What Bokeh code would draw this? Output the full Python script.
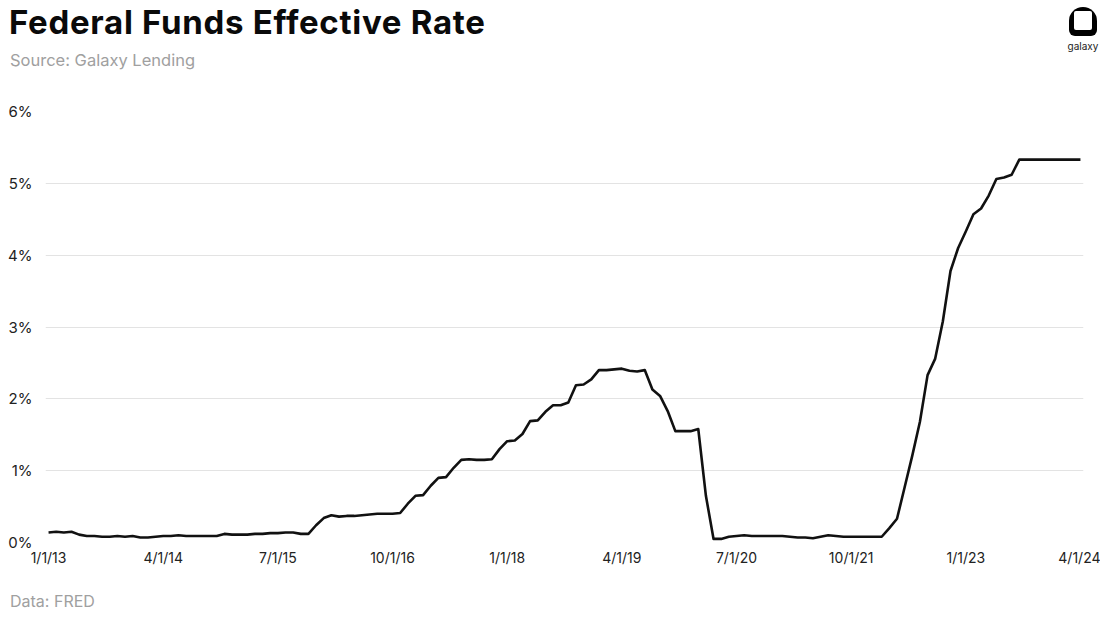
from bokeh.plotting import figure
from bokeh.models import ColumnDataSource, Range1d, FixedTicker, Div
from bokeh.layouts import column
from bokeh.embed import file_html
from bokeh.resources import INLINE
import pandas as pd

# ---- data (FRED, monthly Federal Funds Effective Rate, %) ----
start_month = "2013-01-01"
rates = [
    0.14, 0.15, 0.14, 0.15, 0.11, 0.09, 0.09, 0.08, 0.08, 0.09, 0.08, 0.09,   # 2013
    0.07, 0.07, 0.08, 0.09, 0.09, 0.10, 0.09, 0.09, 0.09, 0.09, 0.09, 0.12,   # 2014
    0.11, 0.11, 0.11, 0.12, 0.12, 0.13, 0.13, 0.14, 0.14, 0.12, 0.12, 0.24,   # 2015
    0.34, 0.38, 0.36, 0.37, 0.37, 0.38, 0.39, 0.40, 0.40, 0.40, 0.41, 0.54,   # 2016
    0.65, 0.66, 0.79, 0.90, 0.91, 1.04, 1.15, 1.16, 1.15, 1.15, 1.16, 1.30,   # 2017
    1.41, 1.42, 1.51, 1.69, 1.70, 1.82, 1.91, 1.91, 1.95, 2.19, 2.20, 2.27,   # 2018
    2.40, 2.40, 2.41, 2.42, 2.39, 2.38, 2.40, 2.13, 2.04, 1.83, 1.55, 1.55,   # 2019
    1.55, 1.58, 0.65, 0.05, 0.05, 0.08, 0.09, 0.10, 0.09, 0.09, 0.09, 0.09,   # 2020
    0.09, 0.08, 0.07, 0.07, 0.06, 0.08, 0.10, 0.09, 0.08, 0.08, 0.08, 0.08,   # 2021
    0.08, 0.08, 0.20, 0.33, 0.77, 1.21, 1.68, 2.33, 2.56, 3.08, 3.78, 4.10,   # 2022
    4.33, 4.57, 4.65, 4.83, 5.06, 5.08, 5.12, 5.33, 5.33, 5.33, 5.33, 5.33,   # 2023
    5.33, 5.33, 5.33, 5.33,                                                   # 2024
]
tick_labels = ["1/1/13", "4/1/14", "7/1/15", "10/1/16", "1/1/18",
               "4/1/19", "7/1/20", "10/1/21", "1/1/23", "4/1/24"]
y_ticks = [0, 1, 2, 3, 4, 5, 6]

title_text = "Federal Funds Effective Rate"
subtitle_text = "Source: Galaxy Lending"
footer_text = "Data: FRED"
logo_text = "galaxy"

months = pd.date_range(start_month, periods=len(rates), freq="MS")
idx = list(range(len(rates)))
tick_positions = [i for i, m in enumerate(months)
                  if f"{m.month}/{m.day}/{m.strftime('%y')}" in tick_labels]

src = ColumnDataSource(dict(x=idx, y=rates))

FONT = "Inter"

p = figure(width=1100, height=470, output_backend="svg", toolbar_location=None,
           x_range=Range1d(-0.4, len(rates) - 1 + 0.4), y_range=Range1d(0, 6),
           min_border_left=45, min_border_right=17, min_border_top=10,
           min_border_bottom=29, background_fill_color="white",
           border_fill_color="white", outline_line_color=None)

p.line("x", "y", source=src, line_color="#111111", line_width=2.6,
       line_join="round")

# axes
p.xaxis.ticker = FixedTicker(ticks=tick_positions)
p.xaxis.major_label_overrides = {pos: lab for pos, lab in zip(tick_positions, tick_labels)}
p.yaxis.ticker = FixedTicker(ticks=y_ticks)
p.yaxis.major_label_overrides = {v: f"{v}%" for v in y_ticks}
for ax in (p.xaxis, p.yaxis):
    ax.axis_line_color = None
    ax.major_tick_line_color = None
    ax.minor_tick_line_color = None
    ax.major_label_text_font = FONT
    ax.major_label_text_color = "#222222"
p.xaxis.major_label_text_font_size = "14px"
p.yaxis.major_label_text_font_size = "15px"
p.xaxis.major_label_standoff = 0
p.yaxis.major_label_standoff = 7

p.xgrid.grid_line_color = None
p.ygrid.grid_line_color = "#e3e3e3"
p.ygrid.grid_line_width = 1

header_html = f"""
<div style="position:relative;width:1100px;height:101px;font-family:Inter,sans-serif;">
  <div style="position:absolute;left:9px;top:0px;font-size:33px;font-weight:700;
              color:#0a0a0a;letter-spacing:0.7px;line-height:44px;white-space:nowrap;">{title_text}</div>
  <div style="position:absolute;left:10px;top:49px;font-size:16.5px;color:#a0a0a0;
              line-height:22px;white-space:nowrap;">{subtitle_text}</div>
  <div style="position:absolute;left:1069px;top:7px;width:28px;height:29px;background:#000;
              border-radius:14px 14px 6px 6px / 14px 14px 6px 6px;"></div>
  <div style="position:absolute;left:1074px;top:11px;width:18px;height:19px;background:#fff;
              border-radius:2px;"></div>
  <div style="position:absolute;left:1063px;top:39px;width:40px;text-align:center;font-size:10px;
              color:#222;line-height:14px;">{logo_text}</div>
</div>
"""
header = Div(text=header_html, width=1100, height=101, margin=0)

footer_html = f"""
<div style="position:relative;width:1100px;height:46px;font-family:Inter,sans-serif;">
  <div style="position:absolute;left:10px;top:20px;font-size:16px;color:#a0a0a0;
              line-height:20px;white-space:nowrap;">{footer_text}</div>
</div>
"""
footer = Div(text=footer_html, width=1100, height=46, margin=0)

layout = column(header, p, footer, spacing=0)

open("out.html", "w").write(file_html(layout, INLINE))
